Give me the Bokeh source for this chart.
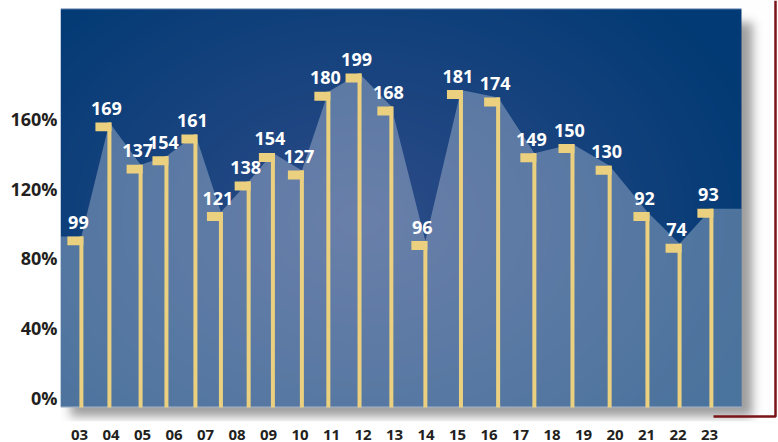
import math
import numpy as np
from bokeh.plotting import figure
from bokeh.models import Range1d, FixedTicker
from bokeh.core.properties import value
from bokeh.embed import file_html
from bokeh.resources import INLINE

# ---------------- data ----------------
categories = ["03", "04", "05", "06", "07", "08", "09", "10", "11", "12", "13",
              "14", "15", "16", "17", "18", "19", "20", "21", "22", "23"]
value_labels = [99, 169, 137, 154, 161, 121, 138, 154, 127, 180, 199,
                168, 96, 181, 174, 149, 150, 130, 92, 74, 93]
# height of each flag top on the % axis
flag_pct = [92.6, 157.9, 133.7, 138.5, 150.9, 106.5, 124.0, 140.4, 130.3, 175.4, 185.9,
            167.0, 89.9, 176.4, 172.2, 140.2, 145.5, 133.1, 106.5, 88.4, 108.4]
# horizontal position of each flag pole (in category-index units)
stem_pos = [0.06, 0.95, 1.94, 2.76, 3.68, 4.49, 5.37, 6.14, 7.06, 7.90, 8.89,
            9.90, 10.98, 12.11, 13.29, 14.44, 15.65, 16.83, 18.03, 19.05, 20.06]
y_ticks = [0, 40, 80, 120, 160]
y_tick_labels = ["0%", "40%", "80%", "120%", "160%"]

# ---------------- layout (page pixels; Bokeh's page has no body margin) ----------------
W, H = 778, 442
BL, BB = 60, 20
FW, FH = W - BL, H - BB
PXX = 1 / 31.5           # category units per pixel
PXY = 1 / 1.75           # percent per pixel
X0 = (BL - 79) * PXX
X1 = X0 + FW * PXX
Y1 = 398.5 * PXY
Y0 = Y1 - FH * PXY

def dx(page_x):
    return X0 + (page_x - BL) * PXX

def dy(page_y):
    return Y1 - page_y * PXY

PANEL_L, PANEL_R, PANEL_T, PANEL_B = 60, 741, 8, 408
bottom_val = dy(PANEL_B)

FONT = "Open Sans"
GOLD = "#ebd17f"

p = figure(width=W, height=H, output_backend="svg", toolbar_location=None,
           x_range=Range1d(X0, X1), y_range=Range1d(Y0, Y1),
           min_border_left=BL, min_border_right=0, min_border_top=0,
           min_border_bottom=BB)
p.outline_line_color = None
p.grid.visible = False
p.background_fill_color = "white"
p.border_fill_color = "white"

# ---------------- background panel with drop shadow (image) ----------------
cols = np.arange(FW) + BL + 0.5
rows = FH - (np.arange(FH) + 0.5)   # page y of each row, row 0 at bottom
PX, PY = np.meshgrid(cols, rows)
erf = np.vectorize(math.erf)
s = 7.0
fx = 0.5 * (erf((cols - (PANEL_L + 10)) / s) - erf((cols - (PANEL_R + 11)) / s))
fy = 0.5 * (erf((rows - (PANEL_T + 14)) / s) - erf((rows - (PANEL_B + 9)) / s))
shadow = 0.38 * np.outer(fy, fx)
base = 255.0 * (1 - shadow)
img = np.stack([base, base, base], axis=-1)
inside = (PX >= PANEL_L) & (PX < PANEL_R) & (PY >= PANEL_T) & (PY < PANEL_B)
d = np.sqrt(((PX - 360) / 430.0) ** 2 + ((PY - 220) / 320.0) ** 2)
t = np.clip(d, 0, 1)[..., None]
c_center = np.array([46.0, 76.0, 136.0])
c_edge = np.array([1.0, 58.0, 116.0])
blue = c_center * (1 - t) + c_edge * t
img[inside] = blue[inside]
top_edge = inside & (PY < PANEL_T + 1)
img[top_edge] = np.array([80.0, 115.0, 165.0])
bot_edge = inside & (PY >= PANEL_B - 1)
img[bot_edge] = np.array([130.0, 150.0, 180.0])
rgba = np.empty((FH, FW, 4), dtype=np.uint8)
rgba[..., :3] = np.clip(img, 0, 255).astype(np.uint8)
rgba[..., 3] = 255
p.image_rgba(image=[rgba.view(np.uint32).reshape(FH, FW)], x=X0, y=Y0,
             dw=X1 - X0, dh=Y1 - Y0)

# ---------------- translucent area ----------------
area_x = [dx(PANEL_L)] + stem_pos + [dx(PANEL_R)]
area_y = [flag_pct[0]] + flag_pct + [flag_pct[-1]]
p.varea(x=area_x, y1=[bottom_val] * len(area_x), y2=area_y,
        fill_color="#f6f7fb", fill_alpha=0.30)

# ---------------- flag poles and flags ----------------
n = len(stem_pos)
pole_half = 2 * PXX
p.quad(left=[x - pole_half for x in stem_pos], right=[x + pole_half for x in stem_pos],
       top=flag_pct, bottom=[bottom_val] * n, fill_color=GOLD, line_color=None)
p.quad(left=[x + pole_half - 16 * PXX for x in stem_pos],
       right=[x + pole_half for x in stem_pos],
       top=flag_pct, bottom=[v - 9 * PXY for v in flag_pct],
       fill_color=GOLD, line_color=None)

# ---------------- value labels ----------------
p.text(x=stem_pos, y=flag_pct, text=[str(v) for v in value_labels],
       text_font=value(FONT), text_font_style="bold", text_font_size="18px",
       text_color="white", text_align="center", text_baseline="alphabetic",
       x_offset=-3, y_offset=-14)

# ---------------- dark red bracket ----------------
p.line(x=[dx(713), dx(775), dx(775)], y=[dy(417), dy(417), dy(0)],
       line_color="#7b1416", line_width=2.5)

# ---------------- axes ----------------
p.xaxis.ticker = FixedTicker(ticks=list(range(len(categories))))
p.xaxis.major_label_overrides = {i: c for i, c in enumerate(categories)}
p.yaxis.ticker = FixedTicker(ticks=y_ticks)
p.yaxis.major_label_overrides = {v: l for v, l in zip(y_ticks, y_tick_labels)}
for ax in (p.xaxis, p.yaxis):
    ax.axis_line_color = None
    ax.major_tick_line_color = None
    ax.minor_tick_line_color = None
    ax.major_label_text_font = FONT
    ax.major_label_text_font_style = "bold"
    ax.major_label_text_color = "#231f20"
p.xaxis.major_label_text_font_size = "15px"
p.yaxis.major_label_text_font_size = "18px"
p.xaxis.major_label_standoff = 2
p.yaxis.major_label_standoff = -3

open("out.html", "w").write(file_html(p, INLINE))
